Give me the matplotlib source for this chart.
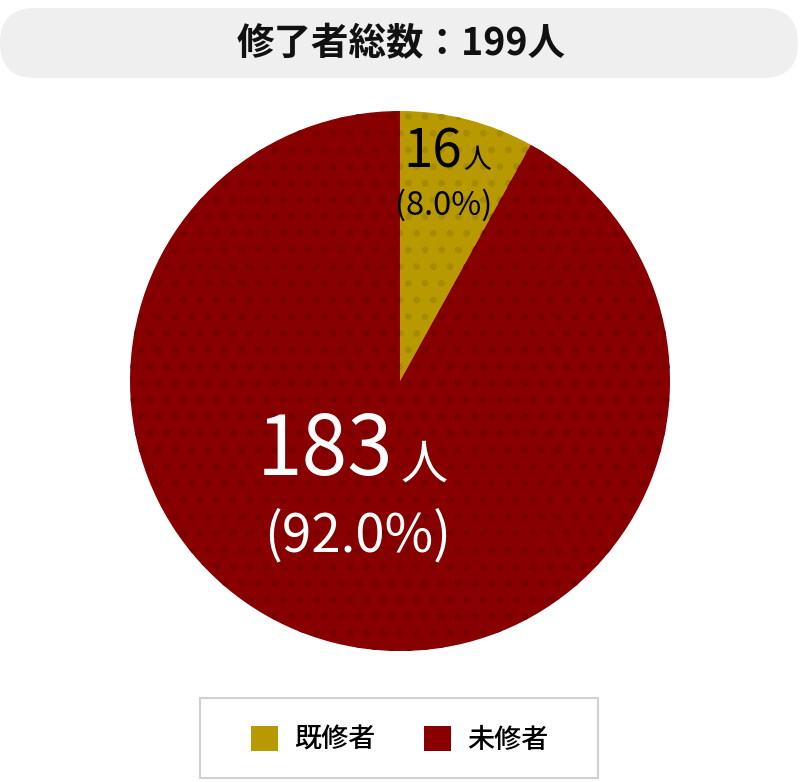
import matplotlib.pyplot as plt
import numpy as np
from matplotlib.patches import FancyBboxPatch, Rectangle, Patch

plt.rcParams['font.family'] = ['Noto Sans CJK JP', 'DejaVu Sans']
narrow = ['Liberation Sans Narrow', 'Noto Sans CJK JP', 'DejaVu Sans']

title = "修了者総数：199人"
labels = ["既修者", "未修者"]
counts = [16, 183]
pcts = ["(8.0%)", "(92.0%)"]
colors = ["#b89a00", "#880000"]
dot_colors = ["#a68b00", "#7a0000"]

W, H = 800, 782
fig = plt.figure(figsize=(W / 100, H / 100), dpi=100)

# overlay axes in pixel coords for title box and legend frame
bg = fig.add_axes([0, 0, 1, 1])
bg.set_xlim(0, W)
bg.set_ylim(H, 0)
bg.axis('off')

bg.add_patch(FancyBboxPatch((0, 8), 798, 70, boxstyle="round,pad=0,rounding_size=35",
                            facecolor="#efefef", edgecolor="none"))
bg.text(401, 44, title, ha='center', va='center', fontsize=27, fontweight='bold', color='#111111')

# pie
ax = fig.add_axes([130 / W, (H - 652) / H, 540 / W, 542 / H])
plt.rcParams['hatch.linewidth'] = 2.5
wedges, _ = ax.pie(counts, colors=colors, startangle=90, counterclock=False,
                   wedgeprops=dict(linewidth=0))
for w, dc in zip(wedges, dot_colors):
    w.set_hatch('.')
    w.set_edgecolor(dc)
    w.set_linewidth(0)
ax.set_xlim(-1, 1)
ax.set_ylim(-1, 1)
ax.set_aspect('equal')

# value labels
ax.text(0.23, 0.79, str(counts[0]), ha='right', va='baseline', fontsize=38, color='black', family=narrow)
ax.text(0.235, 0.79, "人", ha='left', va='baseline', fontsize=20, color='black')
ax.text(0.163, 0.615, pcts[0], ha='center', va='baseline', fontsize=23.5, color='black', family=narrow)

ax.text(-0.026, -0.348, str(counts[1]), ha='right', va='baseline', fontsize=59, color='white', family=narrow)
ax.text(0.0, -0.36, "人", ha='left', va='baseline', fontsize=34, color='white')
ax.text(-0.158, -0.633, pcts[1], ha='center', va='baseline', fontsize=38, color='white', family=narrow)

# legend
bg.add_patch(Rectangle((200, 698), 398, 80, facecolor='white', edgecolor='#d0d0d0', linewidth=1.5))
handles = [Patch(facecolor=c, edgecolor='none') for c in colors]
bg.legend(handles, labels, loc='center', bbox_to_anchor=(400 / W, 1 - 740 / H),
          bbox_transform=fig.transFigure, ncol=2, frameon=False,
          prop={'size': 19.5, 'weight': 'medium'},
          handlelength=1.0, handleheight=1.0, handletextpad=0.6, columnspacing=1.8)

fig.savefig("out.png", dpi=100)
